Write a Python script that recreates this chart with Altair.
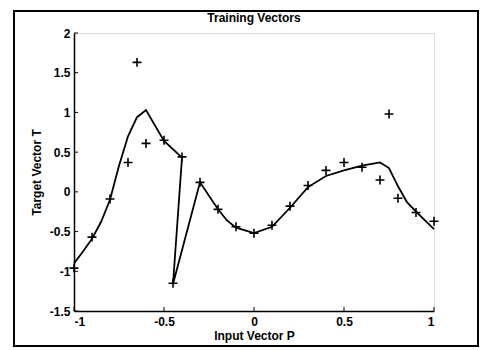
import altair as alt
import pandas as pd

# Training vectors (markers)
p_pts = [-1.0, -0.9, -0.8, -0.7, -0.65, -0.6, -0.5, -0.4, -0.45, -0.3, -0.2, -0.1,
         0.0, 0.1, 0.2, 0.3, 0.4, 0.5, 0.6, 0.7, 0.75, 0.8, 0.9, 1.0]
t_pts = [-0.96, -0.57, -0.09, 0.37, 1.63, 0.61, 0.65, 0.44, -1.15, 0.12, -0.22, -0.44,
         -0.52, -0.42, -0.18, 0.08, 0.27, 0.37, 0.31, 0.15, 0.98, -0.08, -0.26, -0.37]

# Network output curve (drawn in this order)
p_line = [-1.0, -0.95, -0.9, -0.85, -0.8, -0.75, -0.7, -0.65, -0.6, -0.5, -0.4, -0.45,
          -0.3, -0.2, -0.15, -0.1, 0.0, 0.1, 0.2, 0.3, 0.4, 0.5, 0.6, 0.7, 0.75, 0.8,
          0.85, 0.9, 1.0]
t_line = [-0.90, -0.75, -0.59, -0.38, -0.10, 0.33, 0.70, 0.94, 1.03, 0.64, 0.43, -1.16,
          0.12, -0.22, -0.36, -0.45, -0.52, -0.44, -0.20, 0.06, 0.20, 0.27, 0.33, 0.37,
          0.30, 0.07, -0.13, -0.25, -0.47]

x_ticks = [-1, -0.5, 0, 0.5, 1]
y_ticks = [-1.5, -1, -0.5, 0, 0.5, 1, 1.5, 2]
title_text = ["Training Vectors"]

FONT = "Liberation Sans Narrow, Liberation Sans, Arial, sans-serif"
W, H = 360, 278

pts = pd.DataFrame({"P": p_pts, "T": t_pts})
line = pd.DataFrame({"P": p_line, "T": t_line, "i": list(range(len(p_line)))})
xt = pd.DataFrame({"P": x_ticks})
yt = pd.DataFrame({"T": y_ticks})

xs = alt.Scale(domain=[-1, 1], nice=False, zero=False)
ys = alt.Scale(domain=[-1.5, 2], nice=False, zero=False)

x_axis = alt.Axis(values=x_ticks, labelExpr="datum.value + ''", tickSize=0, grid=False,
                  domainColor="black", domainWidth=1.5, labelFont=FONT, labelFontSize=12,
                  labelFontWeight="bold", labelColor="black", labelPadding=5,
                  title="Input Vector P", titleFont=FONT, titleFontSize=12,
                  titleFontWeight="bold", titleColor="black", titlePadding=3)
y_axis = alt.Axis(values=y_ticks, labelExpr="datum.value + ''", tickSize=0, grid=False,
                  domainColor="black", domainWidth=1.5, labelFont=FONT, labelFontSize=12,
                  labelFontWeight="bold", labelColor="black", labelPadding=4,
                  title="Target Vector T", titleFont=FONT, titleFontSize=12,
                  titleFontWeight="bold", titleColor="black", titlePadding=6)

X = lambda: alt.X("P:Q", scale=xs, axis=x_axis)
Y = lambda: alt.Y("T:Q", scale=ys, axis=y_axis)

curve = alt.Chart(line).mark_line(color="black", strokeWidth=1.8).encode(
    x=X(), y=Y(), order=alt.Order("i:Q"),
)

plus = "M -1 0 L 1 0 M 0 -1 L 0 1"
markers = alt.Chart(pts).mark_point(shape=plus, filled=False, color="black",
                                     strokeWidth=1.6, size=80, opacity=1).encode(
    x=X(), y=Y(),
)

xtick = alt.Chart(xt).mark_rule(color="black", strokeWidth=1).encode(
    x=X(), y=alt.value(H), y2=alt.value(H - 4),
)
ytick = alt.Chart(yt).mark_rule(color="black", strokeWidth=1).encode(
    y=Y(), x=alt.value(0), x2=alt.value(4),
)

frame = alt.Chart(pd.DataFrame({"a": [0]})).mark_rect(
    fillOpacity=0, stroke="black", strokeWidth=2, clip=False).encode(
    x=alt.value(-60), x2=alt.value(404), y=alt.value(-22), y2=alt.value(313),
)

title = alt.Chart(pd.DataFrame({"t": title_text})).mark_text(
    font=FONT, fontSize=12, fontWeight="bold", color="black",
    align="center", baseline="bottom").encode(
    text="t:N", x=alt.value(W / 2), y=alt.value(-8),
)

chart = alt.layer(frame, curve, markers, xtick, ytick, title).properties(
    width=W, height=H,
    autosize=alt.AutoSizeParams(type="none"),
    padding={"left": 74, "top": 33, "right": 53, "bottom": 40},
).configure_view(strokeWidth=0).configure(background="white")

chart.save("out.html", embed_options={"renderer": "svg", "actions": False})
